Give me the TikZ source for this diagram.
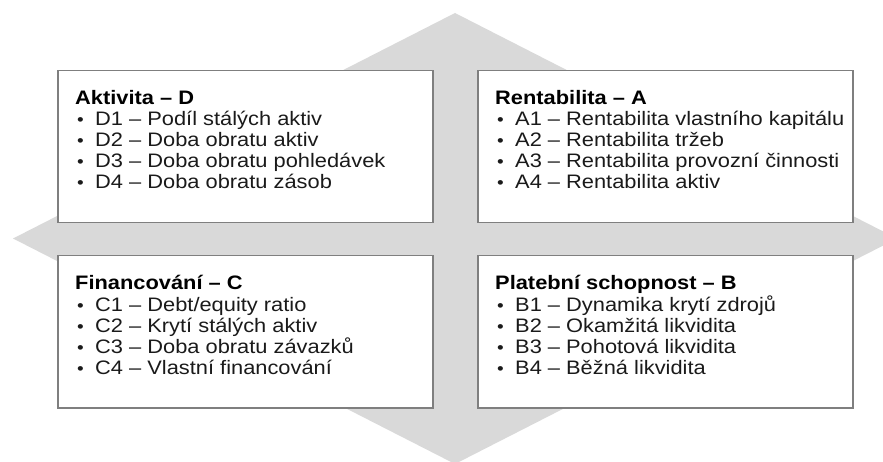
\documentclass[tikz,border=0pt]{standalone}
\usepackage{fontspec}
\setmainfont{Liberation Sans}[FakeStretch=1.12]
\definecolor{crossgray}{HTML}{D9D9D9}
\definecolor{framegray}{HTML}{7F7F7F}
\definecolor{textdark}{HTML}{1A1A1A}
\begin{document}
\begin{tikzpicture}[x=1pt,y=-1pt,
  quad/.style={draw=framegray,line width=1.5pt,fill=white,anchor=north west,
    minimum width=375pt,minimum height=152pt,inner sep=0pt},
  head/.style={anchor=base west,inner sep=0pt,text=black,
    font=\bfseries\fontsize{19.5}{21}\selectfont},
  bul/.style={anchor=base west,inner sep=0pt,text=textdark,
    font=\fontsize{17}{21}\selectfont},
  item/.style={anchor=base west,inner sep=0pt,text=textdark,
    font=\fontsize{19.5}{21}\selectfont}]
\clip (0,0) rectangle (883,462);
% diamond behind the four quadrants
\fill[crossgray] (455,13) -- (897,238.5) -- (455,464) -- (13,238.5) -- cycle;
% quadrants
\node[quad] (aktivita) at (57,70) {};
\node[quad] (rentab) at (477,70) {};
\node[quad] (financ) at (57,255) {};
\node[quad] (platba) at (477,255) {};
% titles
\node[head] (aktivita-t) at ([shift={(18,35)}]aktivita.north west) {Aktivita – D};
\node[head] (rentab-t) at ([shift={(18,35)}]rentab.north west) {Rentabilita – A};
\node[head] (financ-t) at ([shift={(18,35)}]financ.north west) {Financování – C};
\node[head] (platba-t) at ([shift={(18,35)}]platba.north west) {Platební schopnost – B};
% items
\foreach \t [count=\i] in {D1 – Podíl stálých aktiv,D2 – Doba obratu aktiv,
  D3 – Doba obratu pohledávek,D4 – Doba obratu zásob}{
  \node[bul] (aktivita-b\i) at ([shift={(20,{35+21*\i})}]aktivita.north west) {•};
  \node[item] (aktivita-\i) at ([shift={(38,{35+21*\i})}]aktivita.north west) {\t};
}
\foreach \t [count=\i] in {A1 – Rentabilita vlastního kapitálu,A2 – Rentabilita tržeb,
  A3 – Rentabilita provozní činnosti,A4 – Rentabilita aktiv}{
  \node[bul] (rentab-b\i) at ([shift={(20,{35+21*\i})}]rentab.north west) {•};
  \node[item] (rentab-\i) at ([shift={(38,{35+21*\i})}]rentab.north west) {\t};
}
\foreach \t [count=\i] in {C1 – Debt/equity ratio,C2 – Krytí stálých aktiv,
  C3 – Doba obratu závazků,C4 – Vlastní financování}{
  \node[bul] (financ-b\i) at ([shift={(20,{35+21*\i})}]financ.north west) {•};
  \node[item] (financ-\i) at ([shift={(38,{35+21*\i})}]financ.north west) {\t};
}
\foreach \t [count=\i] in {B1 – Dynamika krytí zdrojů,B2 – Okamžitá likvidita,
  B3 – Pohotová likvidita,B4 – Běžná likvidita}{
  \node[bul] (platba-b\i) at ([shift={(20,{35+21*\i})}]platba.north west) {•};
  \node[item] (platba-\i) at ([shift={(38,{35+21*\i})}]platba.north west) {\t};
}
\end{tikzpicture}
\end{document}
